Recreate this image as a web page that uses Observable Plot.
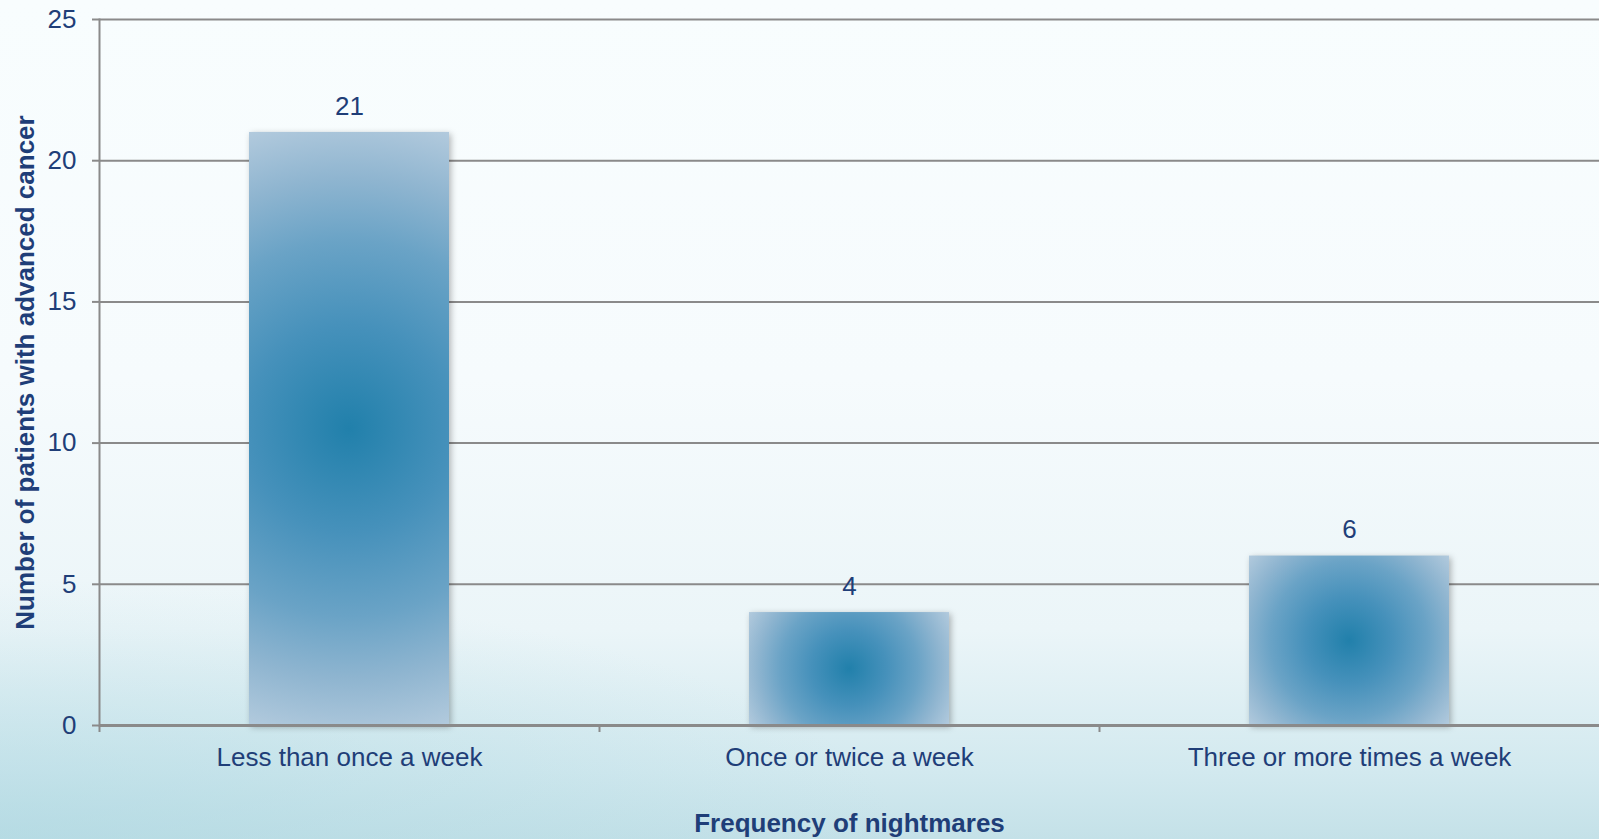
<!DOCTYPE html>
<html>
<head>
<meta charset="utf-8">
<script src="https://cdn.jsdelivr.net/npm/d3@7"></script>
<script src="https://cdn.jsdelivr.net/npm/@observablehq/plot@0.6"></script>
<style>
  html, body { margin: 0; padding: 0; overflow: hidden; }
  body {
    width: 1599px; height: 839px;
    background:
      radial-gradient(ellipse 900px 260px at 0% 100%, rgba(170,214,224,0.55), rgba(170,214,224,0) 100%),
      linear-gradient(to bottom, #f8fdfe 0%, #f6fbfd 45%, #ebf5f8 75%, #d2e9ef 92%, #c4e1e8 100%);
  }
  #chart svg { display: block; }
  .bars rect { filter: drop-shadow(2px 2px 3px rgba(0,0,0,0.28)); }
</style>
</head>
<body>
<div id="chart"></div>
<script>
const categories = ["Less than once a week", "Once or twice a week", "Three or more times a week"];
const values = [21, 4, 6];
const yTicks = [0, 5, 10, 15, 20, 25];
const xTitle = "Frequency of nightmares";
const yTitle = "Number of patients with advanced cancer";

const data = categories.map((c, i) => ({cat: c, value: values[i]}));

const width = 1599, height = 839;
const marginLeft = 99, marginRight = 0, marginTop = 19, marginBottom = 114;
const step = (width - marginLeft - marginRight) / categories.length;

const textColor = "#1F3E78";
const gridColor = "#8a8a8a";

const plot = Plot.plot({
  width, height, marginLeft, marginRight, marginTop, marginBottom,
  style: {background: "transparent", fontFamily: "'Liberation Sans', Arial, sans-serif", fontSize: "26px", color: textColor, overflow: "visible"},
  x: {domain: categories, paddingInner: 0.6, paddingOuter: 0.3, label: null},
  y: {domain: [0, 25], label: null},
  marks: [
    Plot.gridY(yTicks, {stroke: gridColor, strokeOpacity: 1, strokeWidth: 2}),
    Plot.barY(data, {x: "cat", y: "value", fill: "#2c86b0", className: "bars"}),
    Plot.ruleY([0], {stroke: gridColor, strokeWidth: 3}),
    Plot.frame({anchor: "left", stroke: gridColor, strokeWidth: 2}),
    Plot.axisY(yTicks, {tickSize: 7, tickPadding: 16, stroke: gridColor, strokeWidth: 2, fontSize: 26, fill: textColor, label: null}),
    Plot.axisX({tickSize: 7, dx: -step / 2, text: null, stroke: gridColor, strokeWidth: 2, label: null}),
    Plot.axisX({tickSize: 0, tickPadding: 22, fontSize: 26, fill: textColor, label: null}),
    Plot.text(data, {x: "cat", y: "value", text: d => String(d.value), dy: -26, fontSize: 26, fill: textColor}),
    Plot.text([yTitle], {frameAnchor: "left", rotate: -90, dx: -74, textAnchor: "middle", lineAnchor: "middle", fontSize: 26, fontWeight: "bold", fill: textColor}),
    Plot.text([xTitle], {frameAnchor: "bottom", dy: 98, textAnchor: "middle", lineAnchor: "middle", fontSize: 26, fontWeight: "bold", fill: textColor})
  ]
});

// Radial gradients for bars, sized from each rendered bar
const ns = "http://www.w3.org/2000/svg";
const defs = document.createElementNS(ns, "defs");
plot.insertBefore(defs, plot.firstChild);
const stops = [[0, "#2180ab"], [0.33, "#4691bb"], [0.6, "#6aa3c6"], [0.8, "#8fb5d0"], [1, "#b2cadd"]];
plot.querySelectorAll(".bars rect").forEach((r, i) => {
  const x = +r.getAttribute("x"), y = +r.getAttribute("y");
  const w = +r.getAttribute("width"), h = +r.getAttribute("height");
  const g = document.createElementNS(ns, "radialGradient");
  g.setAttribute("id", "barGrad" + i);
  g.setAttribute("gradientUnits", "userSpaceOnUse");
  g.setAttribute("cx", x + w / 2);
  g.setAttribute("cy", y + h / 2);
  g.setAttribute("r", Math.hypot(w, h) / 2);
  for (const [o, c] of stops) {
    const s = document.createElementNS(ns, "stop");
    s.setAttribute("offset", o);
    s.setAttribute("stop-color", c);
    g.appendChild(s);
  }
  defs.appendChild(g);
  r.setAttribute("fill", `url(#barGrad${i})`);
});

document.getElementById("chart").appendChild(plot);
</script>
</body>
</html>
